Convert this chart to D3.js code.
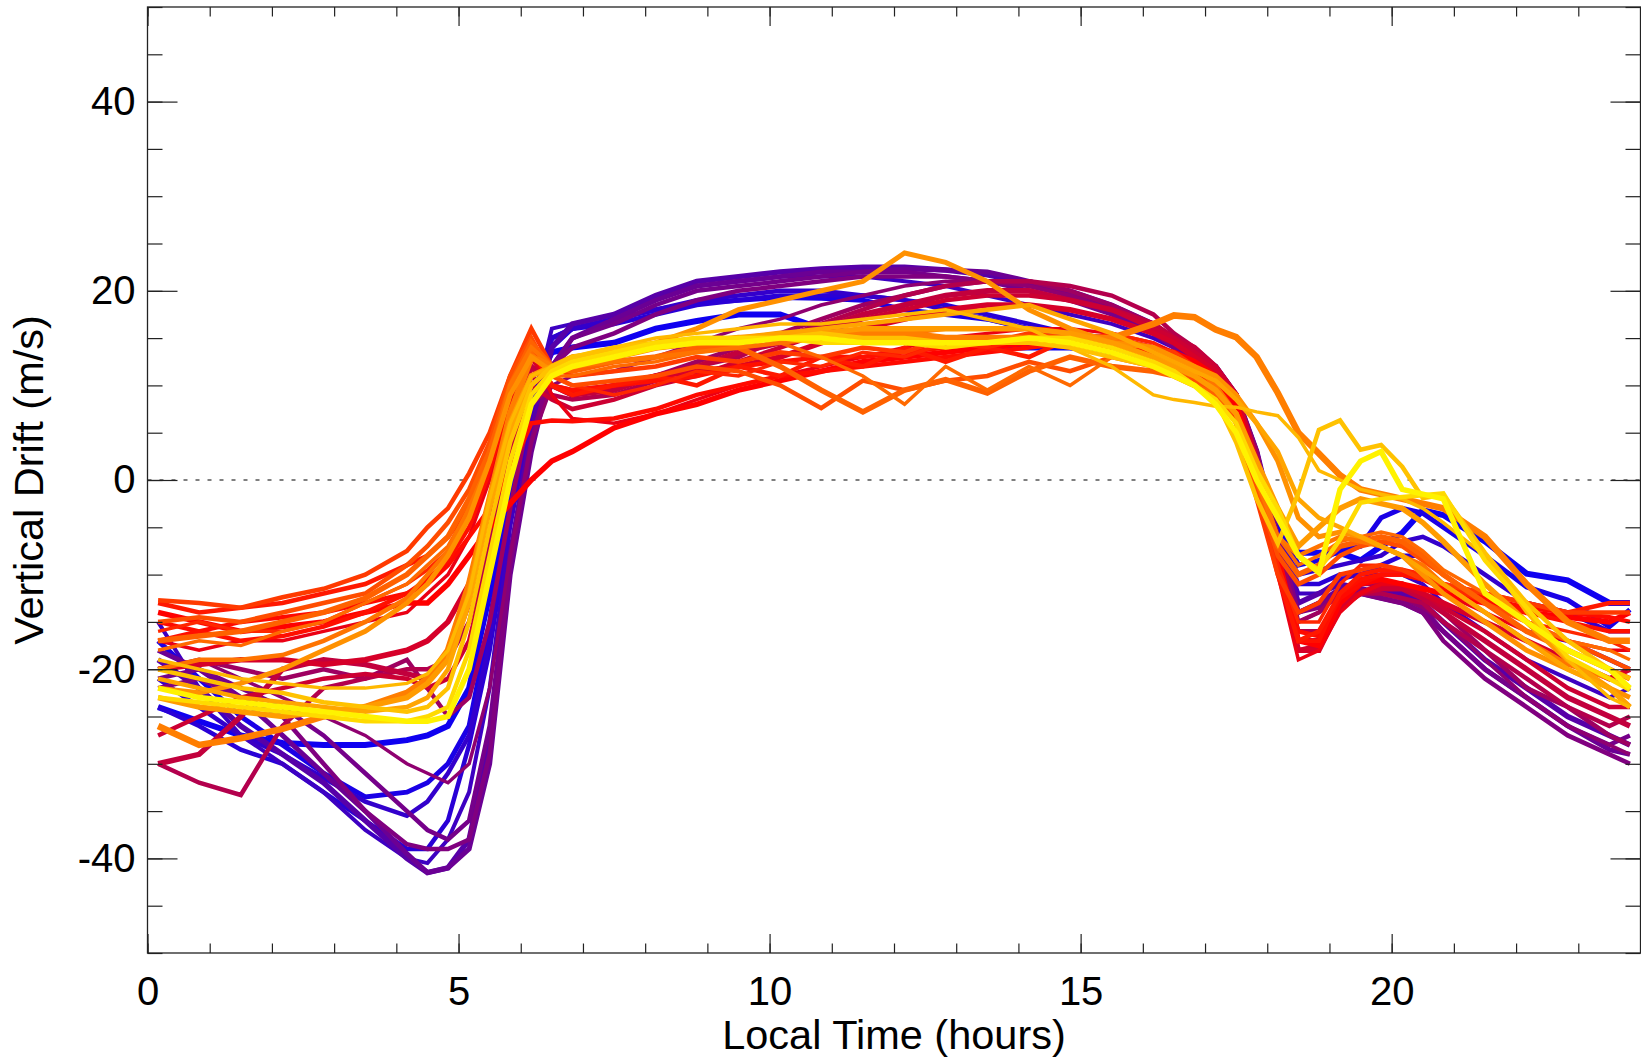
<!DOCTYPE html>
<html>
<head>
<meta charset="utf-8">
<script src="https://cdn.jsdelivr.net/npm/d3@7"></script>
<style>
  html, body { margin: 0; padding: 0; background: #fff; }
  svg { display: block; }
</style>
</head>
<body>
<div id="chart"></div>
<script>
// local time bins (hours)
const localTime = [0.17, 0.83, 1.5, 2.17, 2.83, 3.5, 4.17, 4.5,
  4.83, 5.17, 5.5, 5.83, 6.17, 6.5, 6.83, 7.5,
  8.17, 8.83, 9.5, 10.17, 10.83, 11.5, 12.17, 12.83,
  13.5, 14.17, 14.83, 15.5, 16.17, 16.5, 16.83, 17.17,
  17.5, 17.83, 18.17, 18.5, 18.83, 19.17, 19.5, 19.83,
  20.17, 20.5, 20.83, 21.5, 22.17, 22.83, 23.5, 23.83];

// vertical drift (m/s), one array per curve
const run01 = [-24, -25.5, -27, -27.8, -28, -28, -27.5, -27,
  -26, -22, -12, 0, 9, 13.5, 14, 14.5,
  16, 16.8, 17.5, 17.5, 16, 15.5, 15, 14.5,
  14, 14, 14, 13.5, 13, 12.5, 11.5, 10,
  7, 1, -5, -7.7, -7.7, -7.7, -8.5, -7,
  -5.6, -3.2, -3.7, -6.5, -9.9, -10.6, -13, -13];
const run02 = [-17, -21, -25, -28, -31, -33.5, -33, -32,
  -30, -26, -15, -2, 8, 15, 16, 17,
  18, 18.7, 19, 19.3, 19.2, 19, 18, 17.5,
  17, 16, 15, 14.5, 13.5, 13, 12, 10.5,
  8, 2, -4, -9, -8.5, -7.5, -7, -4,
  -3, -3.5, -5, -8, -11.3, -12.7, -15.5, -13.7];
const run03 = [-24, -26, -28.5, -30, -33, -36, -39, -39,
  -36, -28, -18, -4, 6, 14, 16, 16.5,
  17.5, 18.5, 19, 19.5, 19.5, 19.5, 19, 18.5,
  17.5, 16.5, 15.5, 15, 14, 13, 12, 10,
  7, 0, -6, -11, -11, -10, -10, -9,
  -8, -8, -10, -13, -16, -17, -19, -20];
const run04 = [-15, -22, -27, -30, -33, -37, -40, -40.5,
  -38, -33, -22, -5, 7, 16, 16.5, 17.5,
  19.5, 20.5, 21, 21.5, 21.5, 21.5, 21, 20.5,
  19.5, 18.5, 17.5, 16.5, 15, 14, 12.5, 11,
  8, 2, -6, -12, -12, -10.5, -10, -10,
  -10, -11, -13, -16, -19, -21, -23, -22];
const run05 = [-19, -22, -26, -29, -32, -36, -40, -41.5,
  -41, -38, -28, -8, 5, 14, 16.5, 17.5,
  19.5, 21, 21.5, 22, 22.3, 22.5, 22.5, 22.2,
  21.7, 20.8, 19.5, 18, 16, 15, 13.5, 12,
  9, 3, -6, -13, -12, -11, -11.5, -12,
  -12, -13, -15, -19, -22, -25, -27, -28];
const run06 = [-18, -20, -23, -27, -31, -35, -39.5, -41.5,
  -41, -39, -30, -10, 3, 12, 15, 17,
  19, 20.5, 21, 21.5, 22, 22, 22.3, 22.2,
  22, 21, 20, 18.5, 16.5, 15, 13.5, 12,
  9, 3, -7, -14, -13, -11.5, -12, -12.5,
  -13, -14, -16, -20, -23, -26, -28.5, -29];
const run07 = [-22, -21, -23, -25, -30, -35, -38.5, -39,
  -39, -38, -29, -9, 4, 12, 14, 15.5,
  17.5, 19, 20, 20.5, 21, 21.5, 21.5, 21.5,
  21, 20.5, 19.5, 18, 16, 14.5, 13, 11.5,
  8.5, 3, -6, -14, -13.5, -12, -12, -12.5,
  -13, -14, -17, -21, -24, -27, -29, -30];
const run08 = [-20, -19, -21, -23, -25, -27, -30, -31,
  -32, -30, -22, -8, 4, 10, 11, 11.5,
  13, 14.5, 16, 17, 18.5, 19.5, 20.5, 21,
  21, 20.5, 19.5, 18, 16, 14.5, 13, 11.5,
  8, 2, -8, -15, -14, -12, -11.5, -12,
  -12.5, -13.5, -15, -19, -23, -26, -28, -29];
const run09 = [-20, -19, -20, -21, -20, -21, -19, -22,
  -25, -23, -15, -3, 8, 10, 9.5, 10,
  11, 12.5, 14, 15.5, 17, 18.5, 19.5, 20.5,
  21, 21, 20, 18.5, 16.5, 15, 13.5, 12,
  9, 3, -7, -15, -14, -12, -11, -11,
  -11, -12, -14, -18, -22, -24, -27, -28];
const run10 = [-30, -32, -33.3, -26, -22, -21, -20, -20,
  -19, -15, -7, 3, 11, 9, 8.5, 9,
  10.5, 12, 13, 15, 16.5, 18, 19.5, 20.5,
  21, 21, 20.5, 19.5, 17.5, 15.5, 14, 12,
  9, 2, -8, -16, -16, -13, -12, -12,
  -12.5, -13, -15, -18, -21, -24, -26, -25];
const run11 = [-30, -29, -25, -20, -19, -19.5, -20.5, -21,
  -19, -13, -5, 4, 12, 10, 9, 9.5,
  11, 12, 13.5, 14.5, 16, 17.5, 18.5, 19.5,
  20, 20, 19, 18, 16.5, 15, 14, 12,
  9, 2, -9, -17, -17, -13, -12, -11.5,
  -11.5, -12.5, -14, -17, -20, -23, -25, -26];
const run12 = [-20, -19.5, -19, -19, -19.5, -19, -18, -17,
  -15, -11, -3, 6, 13, 10, 9, 10,
  11, 11.5, 12, 13, 14.5, 16, 17, 18,
  18.5, 18.5, 18, 17, 15.5, 14.5, 13, 11.5,
  9, 2, -9, -18, -18, -13.5, -12, -11,
  -11, -12, -13, -15, -17, -19, -21, -20];
const run13 = [-17, -18, -17, -17, -16, -15, -14, -12,
  -10, -6, 0, 8, 14, 9, 6.5, 6,
  7, 8.5, 10, 11, 12, 13, 14, 15,
  15.5, 16, 16, 15.5, 14.5, 13.5, 12.5, 11,
  8, 1, -10, -19, -18, -14, -12, -11,
  -11, -11.5, -12, -14, -16, -17, -18, -18];
const run14 = [-14, -15, -16, -15.5, -15, -14, -13, -13,
  -11, -8, -5, -2.5, 0, 2, 3, 5.5,
  7, 8, 9.5, 10.5, 11.5, 12.5, 13, 13.5,
  14, 14.5, 15, 15, 14, 13.5, 12.5, 11,
  8, 1, -8, -17, -17.5, -13, -11, -10.5,
  -11, -11.5, -12, -13, -14, -14.5, -15, -14];
const run15 = [-15, -16, -15, -14.5, -14, -13, -12, -11,
  -9, -6, -3, 1, 6, 6.3, 6.2, 6.5,
  7.5, 9, 10, 11, 11.5, 12, 12.5, 13,
  13.5, 14, 14.5, 14.5, 13.5, 13, 12, 10.5,
  7, 0, -9, -16, -16.5, -12.5, -11, -10,
  -10, -10.5, -11.5, -12.5, -13.5, -14, -14.5, -15];
const run16 = [-13, -14, -13.5, -13, -12, -11, -9, -8,
  -6, -3, 2, 9, 14, 10, 9, 10,
  11, 10, 12, 11, 13, 12, 14, 12.5,
  14, 13, 15, 14.5, 14, 13, 12, 10,
  7, -1, -10, -17, -16, -12, -10, -9.5,
  -9.5, -10, -11, -12, -13, -14, -13, -13];
const run17 = [-16, -15, -16, -16, -15, -13, -11, -9.5,
  -7.5, -4, 3, 10, 15, 11, 10, 9,
  10, 11.5, 11, 12.5, 12, 13.5, 13, 14.5,
  14, 15, 14.5, 15.5, 14.5, 13, 11.5, 10,
  7, 0, -9, -15, -15, -11, -9, -9,
  -9.5, -10, -11, -13, -15, -16, -17, -18];
const run18 = [-12.7, -13, -13.5, -12.4, -11.5, -10, -7.5, -5,
  -3, 0.7, 5, 11, 16, 12, 11, 11.5,
  12, 13, 12.5, 13.5, 13, 14, 13.5, 15,
  14.5, 15.5, 15, 15, 14, 13.5, 12, 10,
  6, -2, -10, -14, -13, -10, -9.5, -9,
  -9.5, -10.5, -11, -12, -13, -14, -14, -14];
const run19 = [-15, -14.5, -15, -14, -13, -12, -9, -7,
  -4.5, -1, 4, 11, 15, 11, 10, 10.5,
  11, 12, 11.5, 10, 7.6, 10.5, 9.5, 10.5,
  11, 12.5, 11.5, 13, 12, 11.5, 10.5, 9,
  6, -1, -8, -11, -10, -8, -7, -6.5,
  -7, -8.5, -10, -13, -15, -17, -19, -20];
const run20 = [-17, -16.5, -16, -15, -14, -12.5, -10, -8,
  -6, -2, 3, 10, 14.5, 12, 11.5, 12.5,
  13, 14, 14, 12, 9.5, 7.2, 9.5, 10.6,
  9.2, 11.5, 13, 12, 11.5, 11, 10, 9,
  7, 0, -7, -10, -9, -7, -6.5, -6,
  -6.5, -8, -10, -13, -16, -18, -20, -21];
const run21 = [-18, -17, -17.5, -16, -15, -13, -11, -9,
  -7, -3, 2, 9, 13.5, 11, 11, 12,
  12.5, 13.5, 14, 14.5, 13, 11, 8, 12,
  9.5, 12, 10, 13, 12.5, 11.5, 11, 9.5,
  7, 1, -6, -9, -8, -6.5, -6, -5.5,
  -6, -7.5, -9.5, -12, -15, -17, -18, -19];
const run22 = [-26, -28, -27.3, -26.3, -25, -24, -22.5, -21,
  -18, -11, -2, 7, 13, 12, 12, 13,
  14, 14.5, 15, 15, 15.5, 15.5, 15.5, 15,
  15, 15, 15, 15, 16.5, 17.4, 17.2, 15.9,
  15.1, 13, 9.2, 5, 2.8, 0.5, -1, -1.5,
  -2, -2.5, -3, -6, -11, -15, -17, -17];
const run23 = [-22, -22.5, -21.5, -20, -18, -16, -13, -11,
  -8, -4, 2, 9, 13, 11.5, 12, 13,
  14.5, 16, 18, 19, 20, 21, 24, 23,
  21, 18, 16, 14.5, 14, 13, 12, 11,
  9, 6, 2, -4, -6, -5.5, -6, -7,
  -8, -10, -12, -15, -18, -20, -22, -23];
const run24 = [-21, -22, -23, -23.5, -24, -24.5, -24, -23,
  -20, -13, -3, 5, 10, 12, 13, 13.5,
  14, 14.5, 15, 15.5, 16, 16.5, 17, 17.5,
  18, 18.5, 17, 15.5, 13.5, 12.5, 11.5, 10.5,
  8.5, 6, 3, -2, -4, -5, -6, -7,
  -8, -9.5, -11, -14, -17, -20, -22, -24];
const run25 = [-19, -20, -21, -21.5, -22, -22, -21.5, -20.5,
  -18, -12, -2, 6, 11, 12, 13, 14,
  15, 15.5, 16, 16.5, 16.5, 17, 17.5, 18,
  17, 16, 14, 12, 9, 8.5, 8.2, 7.8,
  7.7, 7.2, 6.8, 4.5, 1, 0, -1, -1.5,
  -2, -3, -4.5, -8, -14, -19, -23, -24];
const run26 = [-20, -21, -22, -22.5, -23.5, -24, -24.5, -24,
  -22, -15, -5, 4, 10, 12, 13, 14,
  14.5, 15, 15, 15, 15.5, 15, 15, 14.5,
  14.5, 14.5, 14, 13, 12, 11.5, 10, 8.5,
  4, -2, -6.7, -1.4, 5.3, 6.3, 3.2, 3.7,
  1.4, -1.9, -1.6, -7.7, -13, -17, -20, -21];
const run27 = [-23, -23.5, -24, -24.5, -25, -25.5, -25.5, -25,
  -24, -18, -8, 2, 9, 11.5, 12.5, 13.5,
  14.5, 15, 15, 15, 14.5, 14.5, 14.5, 14,
  14.5, 15, 15, 14, 12.5, 11.5, 10, 8.5,
  6, 1, -3, -8, -9.5, -6.3, -2.4, -2,
  -1.8, -1.6, -1.4, -8.5, -13.5, -18.7, -21, -22.2];
const run28 = [-22, -23, -23.5, -24, -24.5, -25, -25.5, -25.5,
  -25, -20, -10, 0, 8, 11, 12, 13,
  14, 14.5, 14.5, 15, 15, 14.5, 14.5, 14.5,
  14.5, 15, 14.5, 13.5, 12, 11, 10, 8,
  5, 0, -4, -8, -9.8, -1, 2, 3,
  -1, -1.5, -2, -12, -15, -18, -20, -22];
const run29 = [-21, -24, -27, -29, -31.5, -34, -35.5, -34,
  -31, -27, -17, -3, 7, 15, 16, 17,
  18, 19, 19.5, 20, 20, 19.5, 19, 18,
  17, 16, 15, 14, 13, 12.5, 11.5, 10,
  7, 1, -6, -10, -9.5, -9, -8.5, -8,
  -6.5, -6, -7, -10, -13, -14, -16, -16];
const run30 = [-21, -20, -22, -24, -27, -31, -35, -37,
  -38, -36, -26, -8, 4, 12, 15, 16.5,
  18.5, 20, 20.5, 21, 21.5, 22, 22, 21.5,
  21, 20, 19, 17.5, 15.5, 14, 12.5, 11,
  8, 2, -7, -14, -13, -12, -12, -12,
  -12.5, -13.5, -16, -20, -23, -26, -28, -27];
const run31 = [-27, -25, -23, -22, -21, -20.5, -21, -22,
  -21, -17, -8, 2, 10, 8.5, 7.5, 8.5,
  10, 11, 12.5, 14, 15.5, 17, 18, 19,
  19.5, 19.5, 19, 18, 16, 15, 13.5, 12,
  9, 2, -9, -18, -17.5, -13, -12, -11.5,
  -11.5, -12, -13.5, -16, -19, -22, -24, -24];
const run32 = [-17, -16, -17, -16.5, -15.5, -14, -12, -10.5,
  -8.5, -5, 1, 9, 14, 10, 9.5, 10,
  10.5, 11, 12, 12.5, 13, 13, 13.5, 14,
  14.5, 14.5, 14, 14, 13, 12.5, 11.5, 10,
  7, 0, -9, -17, -17, -12, -10.5, -10,
  -10, -10.5, -11, -12.5, -14, -15, -16, -16];
const run33 = [-20, -19, -19, -18.5, -17, -15, -12.5, -10,
  -7.5, -3, 2, 10, 14, 12, 12, 12.5,
  13, 13.5, 14, 14.5, 15, 15, 15.5, 16,
  16, 16, 15.5, 15, 14, 13, 12, 10,
  7, 0, -6, -8, -7, -6, -6.5, -7,
  -8, -9, -11, -14, -17, -19.5, -21, -22];
const run34 = [-23, -24, -24.5, -25, -24.5, -24, -23, -21.5,
  -19, -12, -2, 6, 11, 12, 13, 13.5,
  14, 14.5, 15, 15.5, 15.5, 16, 16, 16,
  16, 16, 15.5, 14.5, 13, 12, 11, 9.5,
  7, 2, -3, -7, -5, -3, -2, -2.5,
  -3, -4.5, -6.5, -11, -15, -19, -22, -24];

const runs = [run01, run02, run03, run04, run05, run06, run07, run08, run09, run10,
  run11, run12, run13, run14, run15, run16, run17, run18, run19, run20,
  run21, run22, run23, run24, run25, run26, run27, run28, run29, run30,
  run31, run32, run33, run34];

// colour index of each curve: 0 blue, 0.5 red, 1 yellow
const runShade = [0.03, 0.05, 0.08, 0.12, 0.17, 0.21, 0.25, 0.28, 0.31, 0.35,
  0.38, 0.42, 0.46, 0.5, 0.52, 0.55, 0.58, 0.62, 0.66, 0.7,
  0.72, 0.76, 0.8, 0.84, 0.88, 0.9, 0.95, 1.0, 0.1, 0.23,
  0.4, 0.53, 0.74, 0.82];

const xMajor = [0, 5, 10, 15, 20];
const yMajor = [-40, -20, 0, 20, 40];

// style
const lineWidths = [6, 5, 4.5, 4, 5.5, 5, 4.5, 3.5, 4.5, 4.5,
  5.5, 5.5, 3.5, 5.5, 4.5, 4.5, 3.5, 4.5, 4.5, 5.5,
  3.5, 6.5, 5, 4.5, 3.5, 4.5, 4.5, 5.5, 4.5, 4.5,
  4.5, 4.5, 4.5, 5.5];

const W = 1641, H = 1058;
const margin = {left: 147.5, right: 0.5, top: 7, bottom: 105};
const x0 = margin.left, x1 = W - margin.right;
const y0 = margin.top, y1 = H - margin.bottom;

const svg = d3.select('#chart')
  .append('svg')
  .attr('width', W)
  .attr('height', H)
  .style('font-family', '"Liberation Sans", Arial, Helvetica, sans-serif');

const x = d3.scaleLinear().domain([0, 24]).range([x0, x1]);
const y = d3.scaleLinear().domain([-50, 50]).range([y1, y0]);

const color = d3.scaleLinear()
  .domain([0, 0.5, 1])
  .range(['#0000ff', '#ff0000', '#fff200']);

svg.append('clipPath').attr('id', 'plot-clip')
  .append('rect')
  .attr('x', x0).attr('y', y0)
  .attr('width', x1 - x0).attr('height', y1 - y0);

// zero line
svg.append('line')
  .attr('x1', x0).attr('x2', x1)
  .attr('y1', y(0)).attr('y2', y(0))
  .attr('stroke', '#000')
  .attr('stroke-width', 1.2)
  .attr('stroke-dasharray', '4,8');

const line = d3.line()
  .x((d, i) => x(localTime[i]))
  .y(d => y(d));

// draw blue first, yellow last
const order = d3.range(runs.length).sort((a, b) => runShade[a] - runShade[b]);

svg.append('g')
  .attr('clip-path', 'url(#plot-clip)')
  .selectAll('path')
  .data(order)
  .enter().append('path')
  .attr('d', k => line(runs[k]))
  .attr('fill', 'none')
  .attr('stroke', k => color(runShade[k]))
  .attr('stroke-width', k => lineWidths[k])
  .attr('stroke-linejoin', 'miter');

// axes, ticks pointing inward
function styleAxis(g) {
  g.select('.domain').remove();
  g.selectAll('line').attr('stroke', '#222').attr('stroke-width', 1.2);
  g.selectAll('text').attr('font-size', 40).attr('fill', '#000');
}

const plain = d => String(d); // keep ascii hyphen for negatives

svg.append('g')
  .attr('transform', `translate(0,${y1})`)
  .call(d3.axisBottom(x).ticks(24).tickSize(-9.5).tickFormat(''))
  .call(styleAxis);
svg.append('g')
  .attr('transform', `translate(0,${y1})`)
  .call(d3.axisBottom(x).tickValues(xMajor).tickSize(-19).tickPadding(24).tickFormat(plain))
  .call(styleAxis);
svg.append('g')
  .attr('transform', `translate(0,${y0})`)
  .call(d3.axisTop(x).ticks(24).tickSize(-9.5).tickFormat(''))
  .call(styleAxis);
svg.append('g')
  .attr('transform', `translate(0,${y0})`)
  .call(d3.axisTop(x).tickValues(xMajor).tickSize(-19).tickFormat(''))
  .call(styleAxis);

svg.append('g')
  .attr('transform', `translate(${x0},0)`)
  .call(d3.axisLeft(y).ticks(20).tickSize(-15).tickFormat(''))
  .call(styleAxis);
svg.append('g')
  .attr('transform', `translate(${x0},0)`)
  .call(d3.axisLeft(y).tickValues(yMajor).tickSize(-30).tickPadding(12).tickFormat(plain))
  .call(styleAxis);
svg.append('g')
  .attr('transform', `translate(${x1},0)`)
  .call(d3.axisRight(y).ticks(20).tickSize(-15).tickFormat(''))
  .call(styleAxis);
svg.append('g')
  .attr('transform', `translate(${x1},0)`)
  .call(d3.axisRight(y).tickValues(yMajor).tickSize(-30).tickFormat(''))
  .call(styleAxis);

// frame
svg.append('rect')
  .attr('x', x0).attr('y', y0)
  .attr('width', x1 - x0).attr('height', y1 - y0)
  .attr('fill', 'none')
  .attr('stroke', '#222')
  .attr('stroke-width', 1.3);

// axis titles
svg.append('text')
  .attr('x', (x0 + x1) / 2)
  .attr('y', 1049)
  .attr('text-anchor', 'middle')
  .attr('font-size', 41.5)
  .text('Local Time (hours)');

svg.append('text')
  .attr('transform', `translate(43,${(y0 + y1) / 2}) rotate(-90)`)
  .attr('text-anchor', 'middle')
  .attr('font-size', 41.5)
  .text('Vertical Drift (m/s)');
</script>
</body>
</html>
